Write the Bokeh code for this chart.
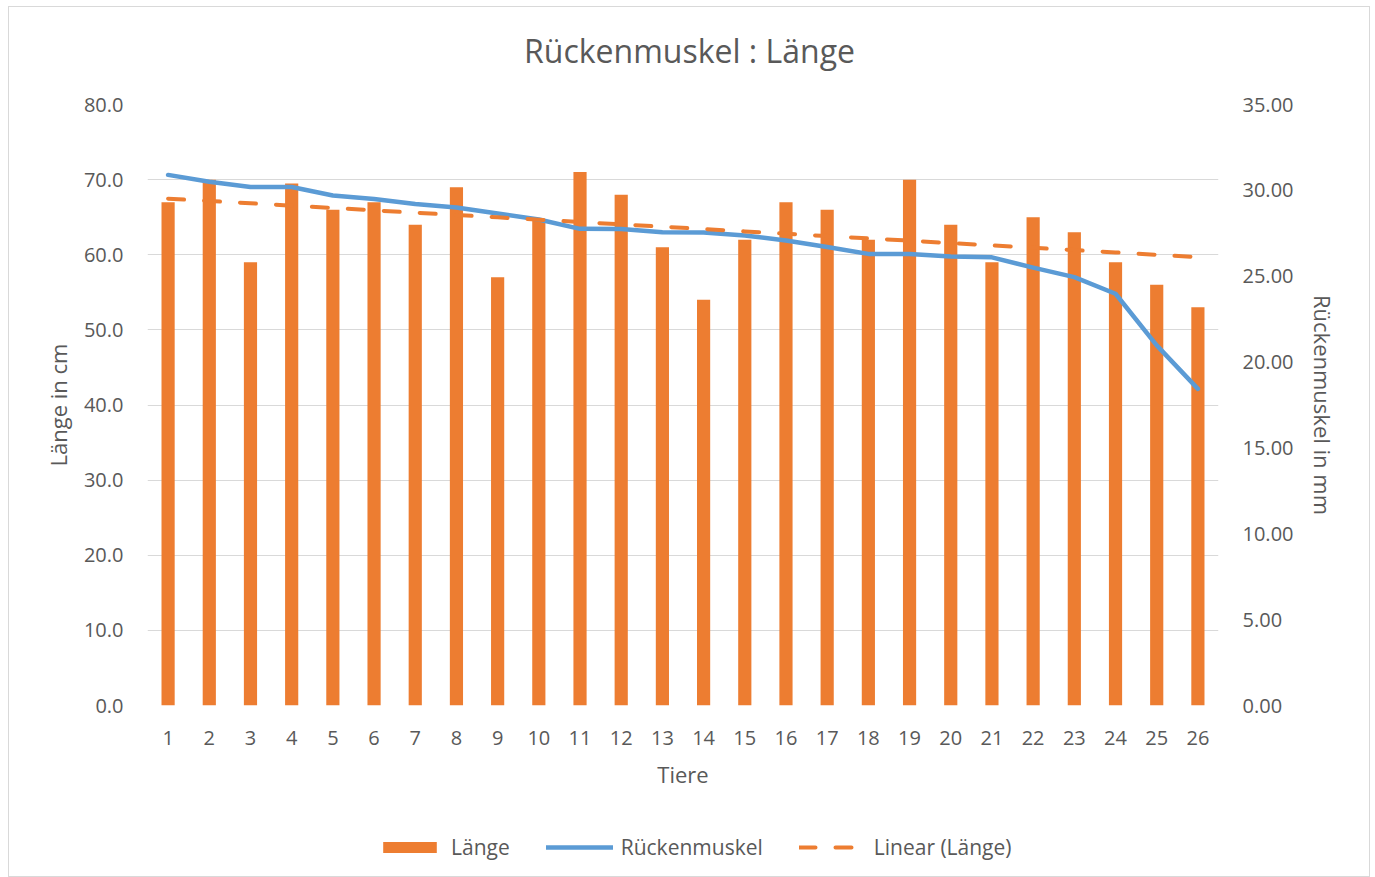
import numpy as np
from bokeh.plotting import figure
from bokeh.layouts import column
from bokeh.models import (Range1d, LinearAxis, FactorRange, Legend, LegendItem, Label,
                          NumeralTickFormatter, FixedTicker, ColumnDataSource)
from bokeh.embed import file_html
from bokeh.resources import INLINE

title_text = "Rückenmuskel : Länge"
tiere = [str(i) for i in range(1, 27)]
laenge = [67, 70, 59, 69.5, 66, 67, 64, 69, 57, 64.5, 71, 68, 61, 54, 62, 67, 66, 62, 70, 64, 59, 65, 63, 59, 56, 53]
ruecken = [30.9, 30.5, 30.2, 30.2, 29.7, 29.5, 29.2, 29.0, 28.65, 28.3, 27.76, 27.75, 27.56, 27.55, 27.37,
           27.08, 26.7, 26.3, 26.3, 26.15, 26.1, 25.5, 24.95, 23.98, 20.97, 18.44]

left_ticks = [0, 10, 20, 30, 40, 50, 60, 70, 80]
right_ticks = [0, 5, 10, 15, 20, 25, 30, 35]

# linear trend of Länge
xs = np.arange(1, len(laenge) + 1)
k, d = np.polyfit(xs, laenge, 1)
trend = list(k * xs + d)

ORANGE = "#ED7D31"
BLUE = "#5B9BD5"
GRID = "#d9d9d9"
TXT = "#595959"
FONT = "Open Sans"

src = ColumnDataSource(dict(x=tiere, laenge=laenge, ruecken=ruecken, trend=trend))

# title strip
t = figure(width=1360, height=77, output_backend="svg", toolbar_location=None,
           min_border=0, x_range=Range1d(0, 1), y_range=Range1d(0, 1))
t.axis.visible = False
t.grid.grid_line_color = None
t.outline_line_color = None
t.add_layout(Label(x=542, y=34, x_units="screen", y_units="screen", text=title_text,
                   text_align="center", text_baseline="middle", text_font=FONT,
                   text_font_size="32px", text_color=TXT))

p = figure(width=1360, height=728, x_range=FactorRange(*tiere), y_range=Range1d(0, 80),
           output_backend="svg", toolbar_location=None,
           min_border_left=138, min_border_right=151, min_border_top=20, min_border_bottom=107)
p.extra_y_ranges = {"r": Range1d(0, 35)}

p.outline_line_color = None
p.xgrid.grid_line_color = None
p.ygrid.grid_line_color = GRID
p.ygrid.grid_line_width = 1
p.ygrid.ticker = FixedTicker(ticks=left_ticks)

bar_style = dict(fill_color=ORANGE, line_color=None)
line_style = dict(line_color=BLUE, line_width=4.5, line_join="round", line_cap="round")
trend_style = dict(line_color=ORANGE, line_width=4, line_dash="16 20", line_cap="round")

p.vbar(x="x", top="laenge", width=0.32, source=src, **bar_style)
p.line(x="x", y="ruecken", source=src, y_range_name="r", **line_style)
p.line(x="x", y="trend", source=src, **trend_style)

# left axis
ax = p.yaxis[0]
ax.ticker = FixedTicker(ticks=left_ticks)
ax.formatter = NumeralTickFormatter(format="0.0")
ax.axis_label = "Länge in cm"

# right axis
rax = LinearAxis(y_range_name="r", ticker=FixedTicker(ticks=right_ticks),
                 formatter=NumeralTickFormatter(format="0.00"), axis_label="Rückenmuskel in mm")
p.add_layout(rax, "right")

p.xaxis.axis_label = "Tiere"

for a in [ax, rax, p.xaxis[0]]:
    a.axis_line_color = None
    a.major_tick_line_color = None
    a.minor_tick_line_color = None
    a.major_label_text_font = FONT
    a.major_label_text_font_size = "20px"
    a.major_label_text_color = TXT
    a.axis_label_text_font = FONT
    a.axis_label_text_font_size = "22px"
    a.axis_label_text_font_style = "normal"
    a.axis_label_text_color = TXT

ax.major_label_standoff = 18
ax.axis_label_standoff = 8
rax.major_label_standoff = 18
rax.axis_label_standoff = 12
p.xaxis[0].major_label_standoff = 19
p.xaxis[0].axis_label_standoff = 11

# legend strip below the chart (same series, drawn outside its visible range)
q = figure(width=1360, height=64, output_backend="svg", toolbar_location=None,
           min_border=0, x_range=FactorRange(*tiere), y_range=Range1d(1000, 1001))
q.axis.visible = False
q.grid.grid_line_color = None
q.outline_line_color = None
r1 = q.vbar(x="x", top="laenge", width=0.32, source=src, **bar_style)
r2 = q.line(x="x", y="ruecken", source=src, **line_style)
r3 = q.line(x="x", y="trend", source=src, **trend_style)

legend = Legend(items=[LegendItem(label="Länge", renderers=[r1]),
                       LegendItem(label="Rückenmuskel", renderers=[r2]),
                       LegendItem(label="Linear (Länge)", renderers=[r3])],
                orientation="horizontal", location=(229, 15),
                glyph_width=67, glyph_height=14, label_standoff=8, spacing=36,
                label_text_font=FONT, label_text_font_size="21px", label_text_color=TXT,
                border_line_color=None, background_fill_alpha=0, margin=0, padding=0)
q.add_layout(legend, "center")

layout = column(t, p, q, spacing=0,
                styles={"border": "1px solid #d9d9d9", "margin-left": "8px", "margin-top": "6px"})

open("out.html", "w").write(file_html(layout, INLINE))
